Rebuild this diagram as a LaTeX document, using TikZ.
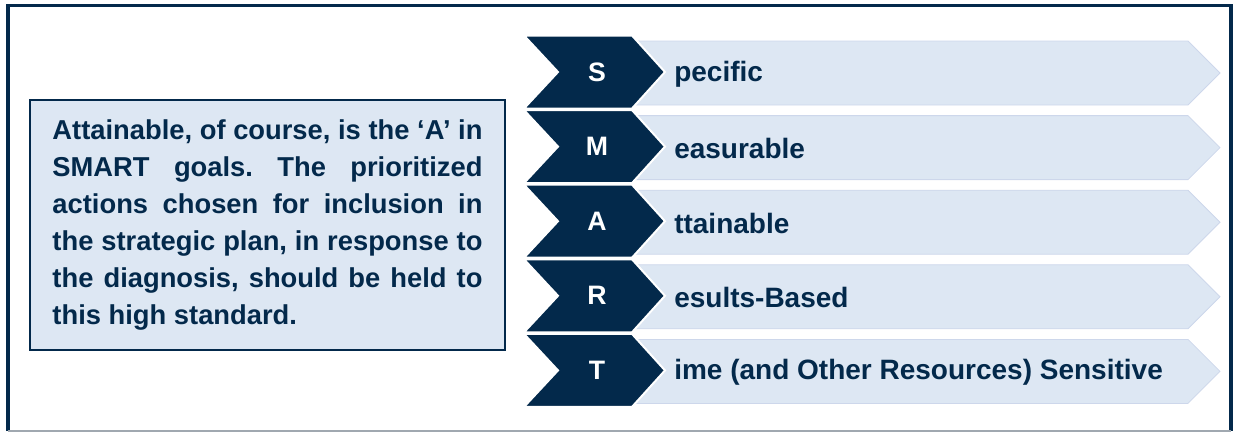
\documentclass[tikz,border=0pt]{standalone}
\usepackage{fontspec}
\setmainfont{Liberation Sans}
\usetikzlibrary{positioning}
\definecolor{smartnavy}{RGB}{3,41,75}
\definecolor{smartpale}{RGB}{221,231,243}
\definecolor{smartedge}{RGB}{205,215,235}
\definecolor{smartgray}{RGB}{160,168,176}
\frenchspacing
\tikzset{
  frame/.style={draw=smartnavy, line width=2.6pt},
  goalbox/.style={draw=smartnavy, line width=1.4pt, fill=smartpale, text=smartnavy,
    minimum width=356pt, minimum height=187.5pt, text width=322.5pt, align=justify,
    inner sep=0pt, font=\bfseries\fontsize{20.5}{27.75}\selectfont},
  darkchev/.style={fill=smartnavy, draw=white, line width=1.5pt},
  palechev/.style={fill=smartpale, draw=smartedge, line width=0.6pt},
  letter/.style={text=white, font=\bfseries\fontsize{20}{22}\selectfont},
  word/.style={text=smartnavy, anchor=west, inner sep=0pt, font=\bfseries\fontsize{21}{24}\selectfont},
}
\begin{document}
\begin{tikzpicture}[x=0.75pt, y=-0.75pt]
  \useasboundingbox (0,0) rectangle (1233,432);
  % outer frame
  \draw[frame] (8,431) -- (8,5.5) -- (1231,5.5) -- (1231,431);
  \draw[smartgray, line width=0.9pt] (8,431) -- (1231,431);
  % text box
  \node[goalbox] (goal) at (267.5,225) {Attainable, of course, is the ‘A’ in\linebreak
    SMART goals. The prioritized\linebreak
    actions chosen for inclusion in\linebreak
    the strategic plan, in response to\linebreak
    the diagnosis, should be held to\linebreak
    this high standard.};
  % SMART rows
  \foreach \ltr/\rest [count=\i from 0] in {S/pecific, M/easurable, A/ttainable,
      R/esults-Based, T/{ime (and Other Resources) Sensitive}} {
    \pgfmathsetmacro\yc{72+74.6*\i}
    \draw[palechev] (600,\yc-31) -- (1188,\yc-31) -- (1220,\yc+1) -- (1188,\yc+33) -- (600,\yc+33) -- cycle;
    \draw[darkchev] (524,\yc-36.5) -- (632,\yc-36.5) -- (665,\yc) -- (632,\yc+36.5) -- (524,\yc+36.5) -- (558,\yc) -- cycle;
    \node[letter] (l\i) at (597,\yc) {\ltr};
    \node[word] (w\i) at (674,\yc+2) {\rest};
  }
\end{tikzpicture}
\end{document}
